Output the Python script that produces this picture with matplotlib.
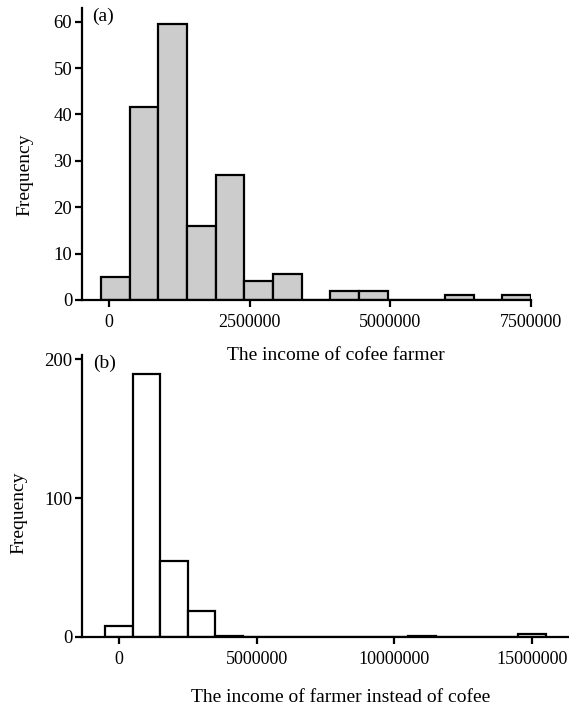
import numpy as np
import matplotlib
matplotlib.use("Agg")
import matplotlib.pyplot as plt

# ---------------------------------------------------------------
# Data
# ---------------------------------------------------------------

# (a) income of coffee farmers: 15 bins
coffee_first_edge = -143000
coffee_bin_width = 509500
coffee_counts = [5, 41.5, 59.5, 16, 27, 4, 5.5, 0, 2, 2, 0, 0, 1, 0, 1]

# (b) income of farmers other than coffee: 16 bins, 1,000,000 wide
other_first_edge = -500000
other_bin_width = 1000000
other_counts = [8, 189, 55, 19, 1, 0, 0, 0, 0, 0, 0, 1, 0, 0, 0, 2]

coffee_ticks = [0, 2500000, 5000000, 7500000]
coffee_yticks = [0, 10, 20, 30, 40, 50, 60]
other_ticks = [0, 5000000, 10000000, 15000000]
other_yticks = [0, 100, 200]

plt.rcParams['font.family'] = ['Liberation Serif', 'DejaVu Serif']
plt.rcParams['font.size'] = 14

fig = plt.figure(figsize=(5.69, 7.09), dpi=100)


def draw_hist(ax, first_edge, width, counts, color):
    edges = first_edge + width * np.arange(len(counts) + 1)
    centers = edges[:-1] + width / 2
    ax.hist(centers, bins=edges, weights=counts, color=color,
            edgecolor='black', linewidth=1.6)
    for side in ['top', 'right']:
        ax.spines[side].set_visible(False)
    for side in ['left', 'bottom']:
        ax.spines[side].set_linewidth(1.6)
    ax.tick_params(axis='x', direction='out', length=5, width=1.6, pad=5,
                   labelsize=13)
    ax.tick_params(axis='y', direction='out', length=5, width=1.6, pad=2,
                   labelsize=13.5)
    ax.set_ylabel('Frequency')


# top panel
ax1 = fig.add_axes([0.144, 0.577, 0.789, 0.412])
draw_hist(ax1, coffee_first_edge, coffee_bin_width, coffee_counts, '#cccccc')
ax1.set_xlim(-481000, 7500000)
ax1.set_ylim(0, 63)
ax1.set_xticks(coffee_ticks)
ax1.set_xticklabels([str(t) for t in coffee_ticks])
ax1.set_yticks(coffee_yticks)
ax1.yaxis.set_label_coords(-0.109, 0.43)
ax1.text(0.022, 1.0, '(a)', transform=ax1.transAxes, ha='left', va='top')

# bottom panel
ax2 = fig.add_axes([0.144, 0.1016, 0.856, 0.3977])
draw_hist(ax2, other_first_edge, other_bin_width, other_counts, 'white')
ax2.set_xlim(-1343000, 16340000)
ax2.set_ylim(0, 203)
ax2.set_xticks(other_ticks)
ax2.set_xticklabels([str(t) for t in other_ticks])
ax2.set_yticks(other_yticks)
ax2.yaxis.set_label_coords(-0.111, 0.44)
ax2.text(0.022, 1.0, '(b)', transform=ax2.transAxes, ha='left', va='top')

# x labels sit a little right of the axes centre in the original
fig.text(336 / 569, 1 - 355 / 709, 'The income of cofee farmer',
         ha='center', va='center')
fig.text(341 / 569, 1 - 698 / 709, 'The income of farmer instead of cofee',
         ha='center', va='center')

fig.savefig('out.png', dpi=100)
